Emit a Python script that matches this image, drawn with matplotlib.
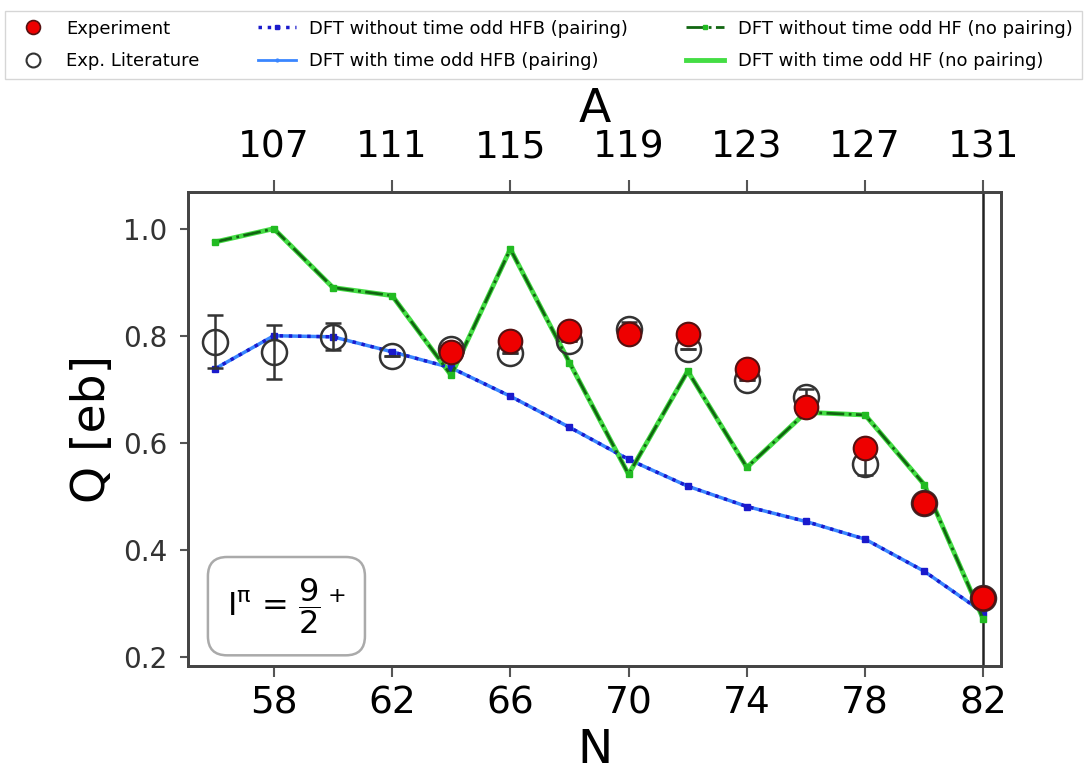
import matplotlib
matplotlib.use("Agg")
import matplotlib.pyplot as plt
from matplotlib.lines import Line2D

# neutron number N (A = N + 49)
n_theo = [56, 58, 60, 62, 64, 66, 68, 70, 72, 74, 76, 78, 80, 82]
hfb_without = [0.738, 0.800, 0.798, 0.770, 0.740, 0.687, 0.629, 0.569, 0.519, 0.481, 0.453, 0.420, 0.360, 0.283]
hfb_with = [0.738, 0.800, 0.798, 0.770, 0.740, 0.687, 0.629, 0.569, 0.519, 0.481, 0.453, 0.420, 0.360, 0.283]
hf_without = [0.975, 1.000, 0.890, 0.875, 0.726, 0.962, 0.750, 0.541, 0.734, 0.554, 0.657, 0.652, 0.522, 0.270]
hf_with = [0.975, 1.000, 0.890, 0.875, 0.726, 0.962, 0.750, 0.541, 0.734, 0.554, 0.657, 0.652, 0.522, 0.270]

n_exp = [64, 66, 68, 70, 72, 74, 76, 78, 80, 82]
q_exp = [0.770, 0.790, 0.808, 0.803, 0.803, 0.738, 0.666, 0.590, 0.488, 0.310]

n_lit = [56, 58, 60, 62, 64, 66, 68, 70, 72, 74, 76, 78, 80, 82]
q_lit = [0.789, 0.770, 0.798, 0.762, 0.775, 0.767, 0.790, 0.813, 0.776, 0.717, 0.686, 0.560, 0.488, 0.310]
q_lit_err = [0.05, 0.05, 0.025, 0.0, 0.012, 0.0, 0.0, 0.012, 0.0, 0.0, 0.015, 0.02, 0.0, 0.0]

a_ticks = [107, 111, 115, 119, 123, 127, 131]
n_ticks = [58, 62, 66, 70, 74, 78, 82]
a_offset = 49  # A = N + 49

fig = plt.figure(figsize=(10.87, 7.75), dpi=100)
ax = fig.add_axes([0.173, 0.1406, 0.748, 0.612])

ax.plot(n_theo, hfb_with, color='#3a86ff', lw=2.5, marker='.', ms=5, zorder=2)
ax.plot(n_theo, hfb_without, color='#1a1acc', lw=2.5, ls=':', marker='s', ms=4, zorder=3)
ax.plot(n_theo, hf_with, color='#44dd44', lw=3.5, zorder=2)
ax.plot(n_theo, hf_without, color='#116611', lw=2, ls='-.', marker='s', ms=4,
        mfc='#22bb22', mec='#22bb22', zorder=3)

ax.errorbar(n_lit, q_lit, yerr=q_lit_err, fmt='o', ms=18, mfc='none', mec='#333333', mew=1.8,
            ecolor='#333333', elinewidth=1.8, capsize=6, capthick=1.8, zorder=4)
ax.plot(n_exp, q_exp, 'o', ms=17, mfc='#ee0000', mec='#551111', mew=1.5, zorder=5)

ax.axvline(82, color='#222222', lw=1.8, zorder=1)

ax.set_xlim(55.1, 82.6)
ax.set_ylim(0.183, 1.069)
ax.set_xticks(n_ticks)
ax.set_yticks([0.2, 0.4, 0.6, 0.8, 1.0])
ax.tick_params(axis='x', labelsize=27, length=8, width=1.5, pad=6, color='#555555')
ax.tick_params(axis='y', labelsize=20, length=6, width=1.5, pad=9, color='#555555', labelcolor='#333333')
for sp in ax.spines.values():
    sp.set_color('#444444')
    sp.set_linewidth(2)

ax.set_xlabel('N', fontsize=34, labelpad=5)
ax.set_ylabel('Q [eb]', fontsize=34, labelpad=6)

# top axis in mass number A
top = ax.twiny()
top.set_xlim(ax.get_xlim())
top.set_xticks([a - a_offset for a in a_ticks])
top.set_xticklabels([str(a) for a in a_ticks])
top.tick_params(axis='x', labelsize=27, length=9, width=1.5, pad=10, color='#555555')
top.set_xlabel('A', fontsize=34, labelpad=5)
for sp in top.spines.values():
    sp.set_color('#444444')
    sp.set_linewidth(2)

ax.text(0.048, 0.063, r'$\mathregular{I^{\pi}}$ = $\dfrac{9}{2}^+$', transform=ax.transAxes,
        fontsize=23, va='bottom', ha='left',
        bbox=dict(boxstyle='round,pad=0.6', fc='white', ec='#aaaaaa', lw=1.8))

handles = [
    Line2D([], [], ls='none', marker='o', ms=10, mfc='#ee0000', mec='#551111', mew=1.2),
    Line2D([], [], ls='none', marker='o', ms=10, mfc='none', mec='#333333', mew=1.5),
    Line2D([], [], color='#1a1acc', lw=2.5, ls=':', marker='s', ms=3),
    Line2D([], [], color='#3a86ff', lw=2, marker='.', ms=4),
    Line2D([], [], color='#116611', lw=2, ls='-.', marker='s', ms=3, mfc='#22bb22', mec='#22bb22'),
    Line2D([], [], color='#44dd44', lw=3.5),
]
labels = ['Experiment', 'Exp. Literature',
          'DFT without time odd HFB (pairing)', 'DFT with time odd HFB (pairing)',
          'DFT without time odd HF (no pairing)', 'DFT with time odd HF (no pairing)']
fig.legend(handles, labels, loc='lower left', ncol=3, mode='expand',
           bbox_to_anchor=(0.005, 0.898, 0.99, 0.089), fontsize=13,
           frameon=True, fancybox=False, edgecolor='#cccccc', labelspacing=0.8,
           handlelength=2.1, handletextpad=0.75, borderpad=0.5, borderaxespad=0)

fig.savefig('out.png', dpi=100)
